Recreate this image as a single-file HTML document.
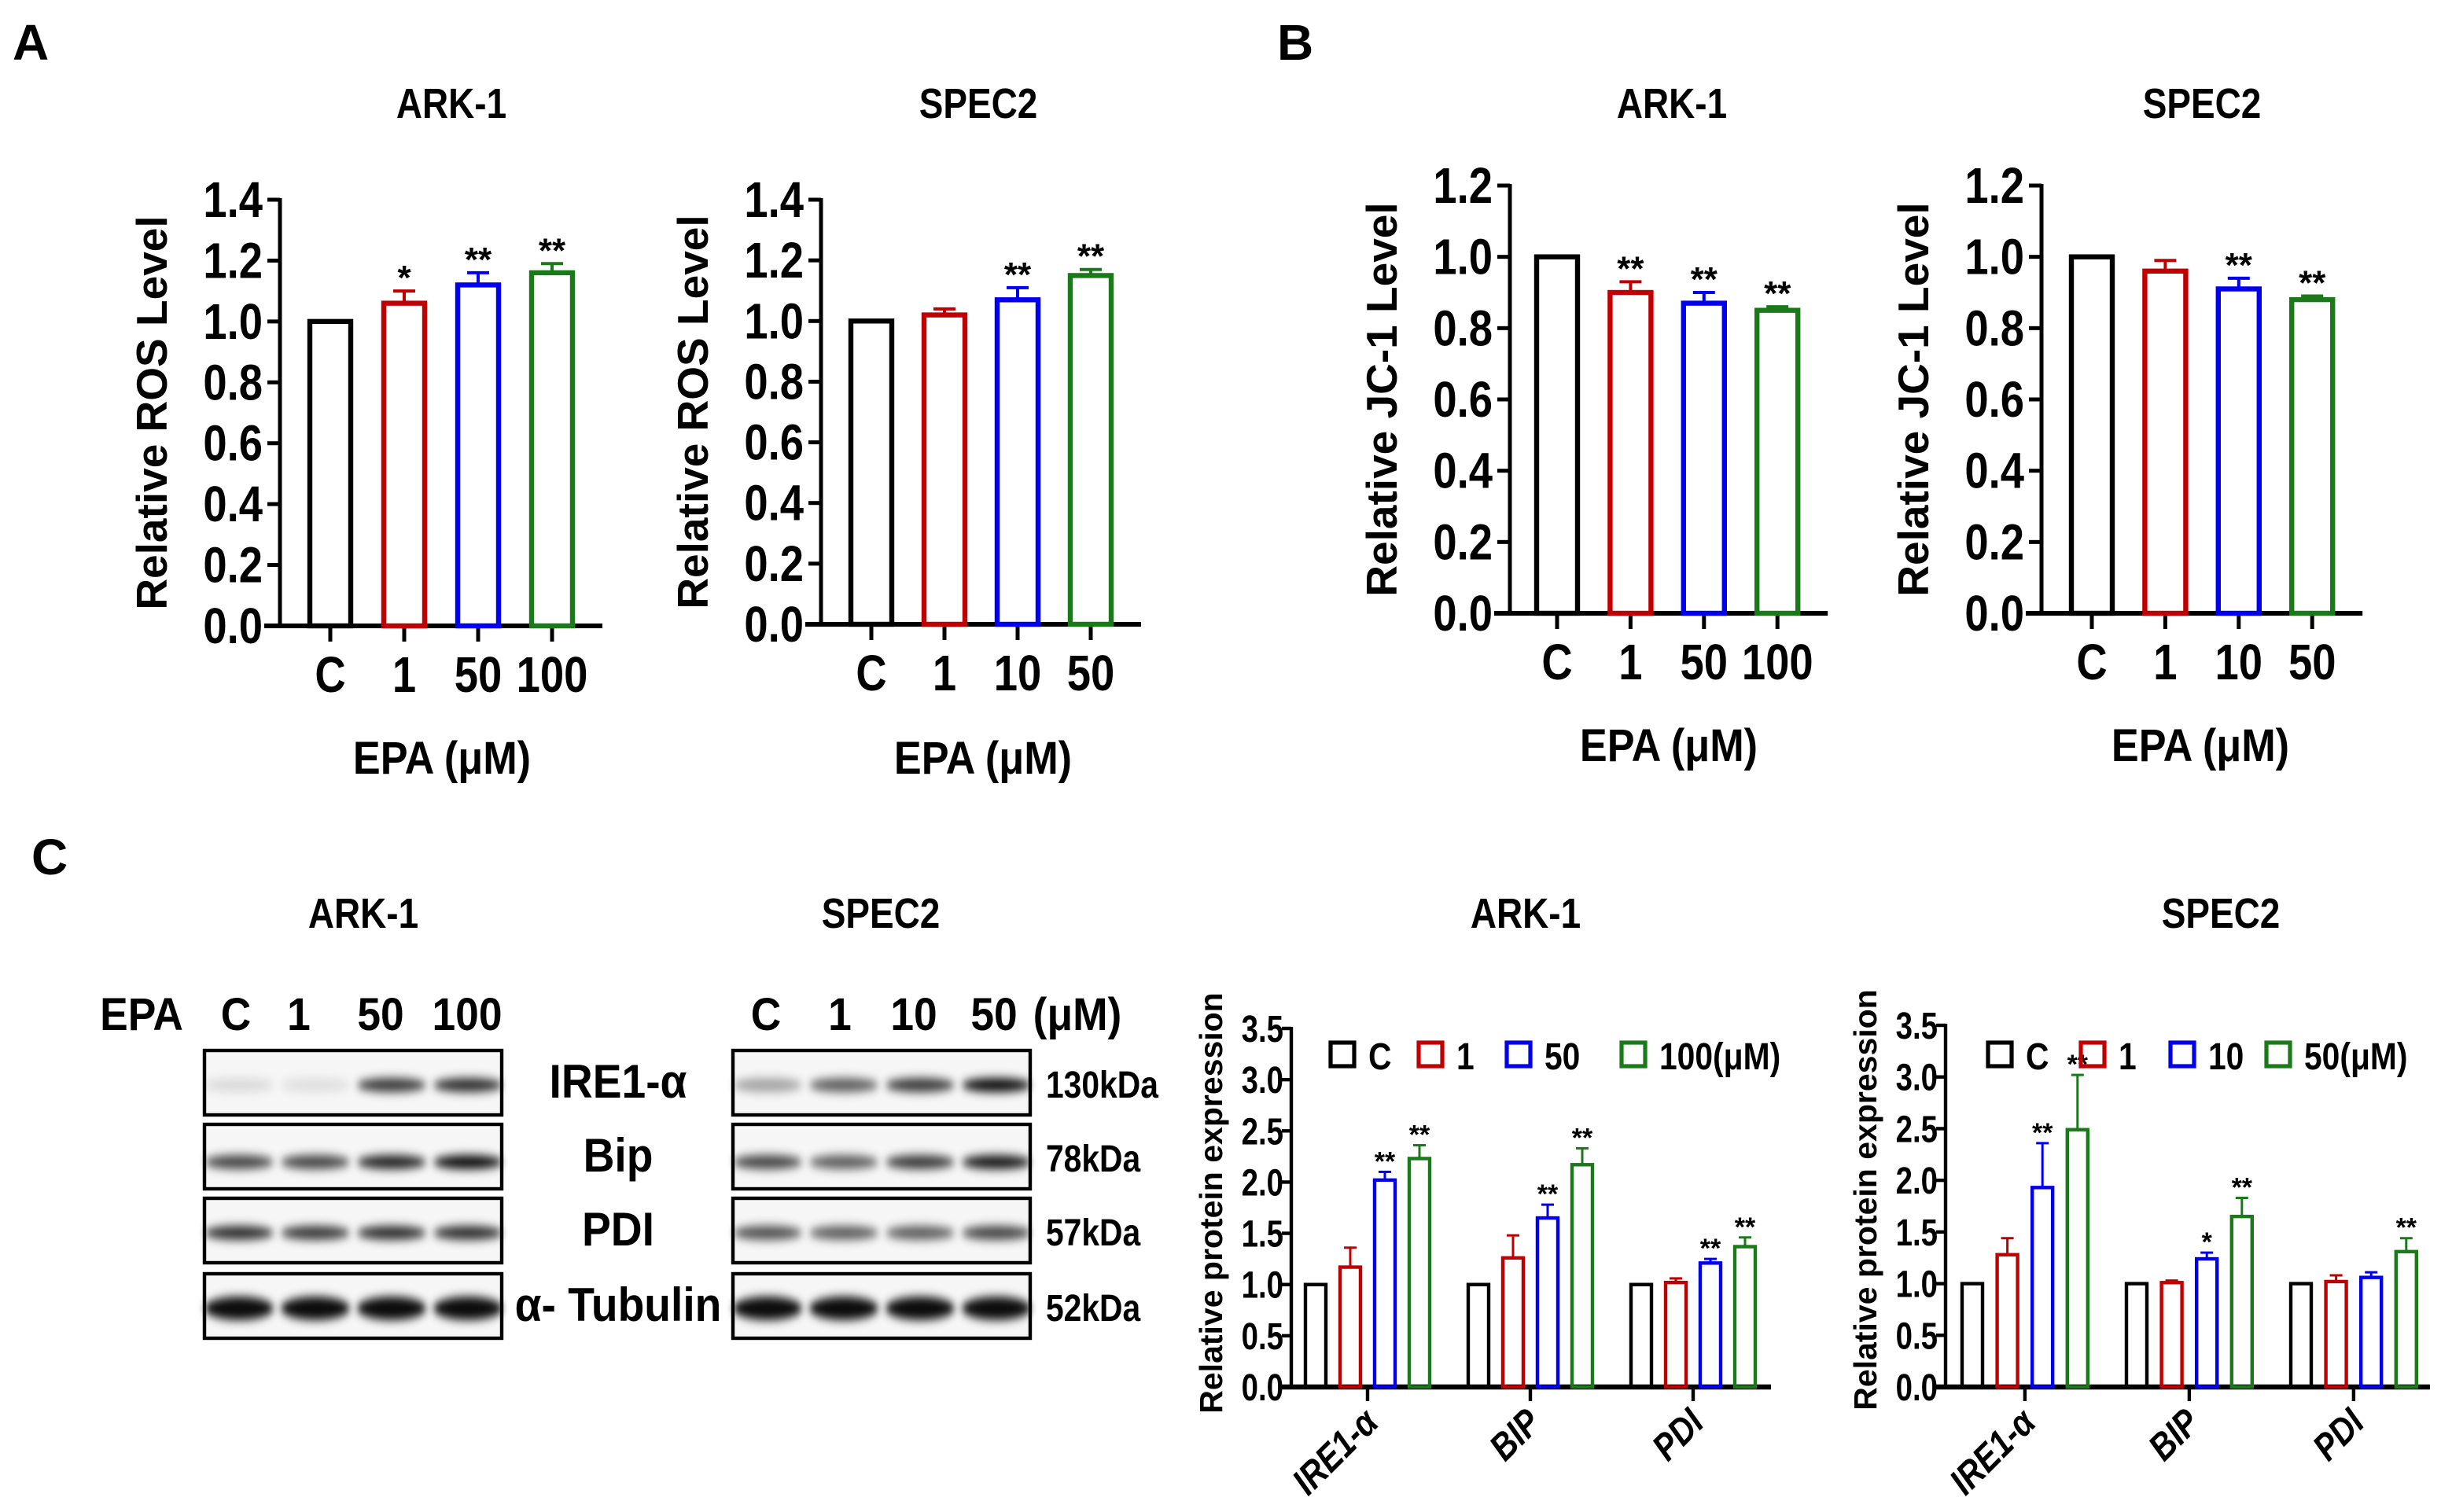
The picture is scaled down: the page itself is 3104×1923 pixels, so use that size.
<!DOCTYPE html>
<html><head><meta charset="utf-8"><style>
html,body{margin:0;padding:0;background:#fff}
svg{display:block}
text{font-family:"Liberation Sans",sans-serif;font-weight:bold;fill:#000}
</style></head><body>
<svg id="fig" xmlns="http://www.w3.org/2000/svg" width="3104" height="1923" viewBox="0 0 1552 961.5">
<defs>
<filter id="blur" x="-20%" y="-100%" width="140%" height="300%"><feGaussianBlur stdDeviation="2.2 3"/></filter>
</defs>
<g id="static">
<text x="8" y="38" font-size="32">A</text>
<text x="812" y="38" font-size="32">B</text>
<text x="20" y="556" font-size="32">C</text>
</g>
</svg>
<script>
// ---------- data ----------
const catsA1 = ["C","1","50","100"];
const valsA1 = [1.0,1.06,1.12,1.16];
const errsA1 = [0,0.04,0.04,0.03];
const starsA1 = ["","*","**","**"];
const catsA2 = ["C","1","10","50"];
const valsA2 = [1.0,1.02,1.07,1.15];
const errsA2 = [0,0.02,0.04,0.02];
const starsA2 = ["","","**","**"];
const ticksA = ["0.0","0.2","0.4","0.6","0.8","1.0","1.2","1.4"];
const catsB1 = ["C","1","50","100"];
const valsB1 = [1.0,0.90,0.87,0.85];
const errsB1 = [0,0.03,0.03,0.01];
const starsB1 = ["","**","**","**"];
const catsB2 = ["C","1","10","50"];
const valsB2 = [1.0,0.96,0.91,0.88];
const errsB2 = [0,0.03,0.03,0.01];
const starsB2 = ["","","**","**"];
const ticksB = ["0.0","0.2","0.4","0.6","0.8","1.0","1.2"];
const proteins = ["IRE1-α","BIP","PDI"];
const ticksC = ["0.0","0.5","1.0","1.5","2.0","2.5","3.0","3.5"];
const legendC1 = ["C","1","50","100(μM)"];
const legendC2 = ["C","1","10","50(μM)"];
const valsC1_C = [1,1,1];
const valsC1_1 = [1.17,1.26,1.02];
const valsC1_50 = [2.02,1.65,1.21];
const valsC1_100 = [2.23,2.17,1.37];
const errsC1_1 = [0.19,0.22,0.04];
const errsC1_50 = [0.08,0.13,0.04];
const errsC1_100 = [0.13,0.16,0.09];
const starsC1_50 = ["**","**","**"];
const starsC1_100 = ["**","**","**"];
const valsC2_C = [1,1,1];
const valsC2_1 = [1.28,1.01,1.02];
const valsC2_10 = [1.93,1.24,1.06];
const valsC2_50 = [2.49,1.65,1.31];
const errsC2_1 = [0.16,0.02,0.06];
const errsC2_10 = [0.43,0.06,0.05];
const errsC2_50 = [0.53,0.18,0.13];
const starsC2_10 = ["**","*",""];
const starsC2_50 = ["**","**","**"];
// blot band intensities (0..1) per lane
const blotRows = ["IRE1-α","Bip","PDI","α- Tubulin"];
const kda = ["130kDa","78kDa","57kDa","52kDa"];
const bandsARK = [[0.12,0.1,0.8,0.85],[0.75,0.75,0.9,1],[0.85,0.8,0.85,0.85],[1,1,1,1]];
const bandsSPEC = [[0.35,0.65,0.8,1],[0.75,0.65,0.8,0.95],[0.7,0.65,0.65,0.75],[1,1,1,1]];

const COLORS = ["#000000","#c00000","#0000ee","#1a7a1a"];
const NS = "http://www.w3.org/2000/svg";
const svg = document.getElementById("fig");
function mk(tag, attrs, parent){
  const e = document.createElementNS(NS, tag);
  for (const k in attrs) e.setAttribute(k, attrs[k]);
  (parent||svg).appendChild(e);
  return e;
}
function txt(s, x, y, size, parent, anchor, sx, rot){
  const t = mk("text", {x:0, y:0, "font-size":size, "text-anchor":anchor||"middle"}, parent);
  t.setAttribute("transform", `translate(${x},${y})` + (rot?` rotate(${rot})`:"") + ` scale(${sx||1},1)`);
  t.textContent = s;
  return t;
}
const NX = 0.85;

// ---------- single bar charts (A, B) ----------
function barChart(o){
  const g = mk("g", {});
  
  
  const yScale = v => o.y0 - (v / o.vmax) * (o.y0 - o.yTop);
  const ti = txt(o.title, o.titleX, 75, 27, g, "middle", NX);
  
  
  const ya = mk("line", {x1:o.ax, y1:o.y0+1.5, x2:o.ax, y2:o.yTop-1, stroke:"#000","stroke-width":2.5}, g);
  
  
  o.ticks.forEach((lab)=>{
    const y = yScale(parseFloat(lab));
    mk("line",{x1:o.ax-8,y1:y,x2:o.ax,y2:y,stroke:"#000","stroke-width":2.5},g);
    const t = txt(lab, o.ax-11, y+11, 32, g, "end", NX);
    
    
  });
  const yl = txt(o.ylabel, o.ax-72, (o.y0+o.yTop)/2, 27.5, g, "middle", 1, -90);
  
  
  const last = o.x0 + o.dx*(o.cats.length-1);
  const xa = mk("line",{x1:o.ax-10,y1:o.y0,x2:last+32,y2:o.y0,stroke:"#000","stroke-width":3},g);
  
  
  o.cats.forEach((c,i)=>{
    const cx = o.x0 + o.dx*i;
    mk("line",{x1:cx,y1:o.y0,x2:cx,y2:o.y0+10,stroke:"#000","stroke-width":2.5},g);
    const t = txt(c, cx, o.y0+42, 32, g, "middle", NX);
    
    
    const v = o.vals[i], e = o.errs[i];
    const yt = yScale(v);
    const w = 26;
    const b = mk("rect",{x:cx-w/2,y:yt,width:w,height:o.y0-yt,fill:"none",stroke:COLORS[i],"stroke-width":3.2},g);
    
    
    if (e>0){
      const ye = yScale(v+e);
      mk("line",{x1:cx,y1:yt,x2:cx,y2:ye,stroke:COLORS[i],"stroke-width":2},g);
      mk("line",{x1:cx-7,y1:ye,x2:cx+7,y2:ye,stroke:COLORS[i],"stroke-width":2},g);
    }
    if (o.stars[i]){
      const s = txt(o.stars[i], cx, yScale(v+e)-1, 22, g, "middle", 1);
      
      
    }
  });
  const xl = txt("EPA (μM)", o.ax+o.xlabOff, o.xlabY, 29, g, "middle", 0.9);
  
  
}
barChart({name:"chart-a-ark1",title:"ARK-1",titleX:287,ax:178,y0:398,yTop:127,vmax:1.4,ticks:ticksA,cats:catsA1,vals:valsA1,errs:errsA1,stars:starsA1,x0:210,dx:47,ylabel:"Relative ROS Level",xlabOff:103,xlabY:492});
barChart({name:"chart-a-spec2",title:"SPEC2",titleX:622,ax:522,y0:397,yTop:127,vmax:1.4,ticks:ticksA,cats:catsA2,vals:valsA2,errs:errsA2,stars:starsA2,x0:554,dx:46.5,ylabel:"Relative ROS Level",xlabOff:103,xlabY:492});
barChart({name:"chart-b-ark1",title:"ARK-1",titleX:1063,ax:960,y0:390,yTop:118,vmax:1.2,ticks:ticksB,cats:catsB1,vals:valsB1,errs:errsB1,stars:starsB1,x0:990,dx:46.7,ylabel:"Relative JC-1 Level",xlabOff:101,xlabY:484});
barChart({name:"chart-b-spec2",title:"SPEC2",titleX:1400,ax:1298,y0:390,yTop:118,vmax:1.2,ticks:ticksB,cats:catsB2,vals:valsB2,errs:errsB2,stars:starsB2,x0:1330,dx:46.7,ylabel:"Relative JC-1 Level",xlabOff:101,xlabY:484});

// ---------- grouped charts (C) ----------
function groupChart(o){
  const g = mk("g", {});
  
  
  const yScale = v => o.y0 - (v / 3.5) * (o.y0 - o.yTop);
  const ti = txt(o.title, o.titleX, 590, 27, g, "middle", NX);
  
  
  const ya = mk("line",{x1:o.ax,y1:o.y0+1.5,x2:o.ax,y2:o.yTop-1,stroke:"#000","stroke-width":2.2},g);
  
  
  ticksC.forEach(lab=>{
    const y = yScale(parseFloat(lab));
    mk("line",{x1:o.ax-6,y1:y,x2:o.ax,y2:y,stroke:"#000","stroke-width":2.2},g);
    const t = txt(lab, o.ax-5, y+8.5, 24, g, "end", 0.8);
    
    
  });
  const yl = txt("Relative protein expression", o.ax-44, o.ylc, 20.5, g, "middle", 1, -90);
  
  
  const xa = mk("line",{x1:o.ax-8,y1:o.y0,x2:o.xEnd,y2:o.y0,stroke:"#000","stroke-width":3.2},g);
  
  
  proteins.forEach((p,gi)=>{
    const gx = o.g0 + o.gdx*gi;
    const mid = gx + o.bdx*1.5;
    mk("line",{x1:mid,y1:o.y0,x2:mid,y2:o.y0+9,stroke:"#000","stroke-width":2.2},g);
    const t = txt(p, mid+8, o.y0+24, 24, g, "end", NX, -45);
    t.setAttribute("font-style","italic");
    
    
    o.series.forEach((s,si)=>{
      const cx = gx + o.bdx*si;
      const v = s.v[gi], e = s.e ? s.e[gi] : 0;
      const yt = yScale(v);
      const w = 13;
      const b = mk("rect",{x:cx-w/2,y:yt,width:w,height:o.y0-yt,fill:"none",stroke:COLORS[si],"stroke-width":2.2},g);
      
      
      if (e>0){
        const ye = yScale(v+e);
        mk("line",{x1:cx,y1:yt,x2:cx,y2:ye,stroke:COLORS[si],"stroke-width":1.5},g);
        mk("line",{x1:cx-4,y1:ye,x2:cx+4,y2:ye,stroke:COLORS[si],"stroke-width":1.5},g);
      }
      if (s.s && s.s[gi]){
        const st = txt(s.s[gi], cx, yScale(v+e)-1, 17, g, "middle", 1);
        
        
      }
    });
  });
  o.legX.forEach((lx,i)=>{
    const sq = mk("rect",{x:lx,y:663,width:15,height:15,fill:"none",stroke:COLORS[i],"stroke-width":2.6},g);
    
    
    const t = txt(o.legend[i], lx+24, 680, 24, g, "start", 0.85);
    
    
  });
}
groupChart({name:"chart-c-ark1",title:"ARK-1",titleX:970,ax:821,y0:882,yTop:654,xEnd:1126,g0:836.5,gdx:103.5,bdx:22,ylc:765,
  legend:legendC1,legX:[846,902,958,1031],
  series:[{v:valsC1_C},{v:valsC1_1,e:errsC1_1},{v:valsC1_50,e:errsC1_50,s:starsC1_50},{v:valsC1_100,e:errsC1_100,s:starsC1_100}]});
groupChart({name:"chart-c-spec2",title:"SPEC2",titleX:1412,ax:1237,y0:882,yTop:652,xEnd:1545,g0:1254,gdx:104.5,bdx:22.3,ylc:763,
  legend:legendC2,legX:[1264,1323,1380,1441],
  series:[{v:valsC2_C},{v:valsC2_1,e:errsC2_1},{v:valsC2_10,e:errsC2_10,s:starsC2_10},{v:valsC2_50,e:errsC2_50,s:starsC2_50}]});

// ---------- western blots ----------
function blot(name, title, titleX, bx, bands, laneLabels, laneX, extra){
  const g = mk("g", {});
  
  
  const ti = txt(title, titleX, 590, 27, g, "middle", NX);
  
  
  laneLabels.forEach((l,i)=>{
    const t = txt(l, laneX[i], 655, 29, g, "middle", 0.92);
    
    
  });
  const rowsY = [668,715,762,810];
  const w = 189, h = 41;
  bands.forEach((row,ri)=>{
    const y = rowsY[ri];
    mk("rect",{x:bx,y:y,width:w,height:h,fill:"#f6f6f6"},g);
    row.forEach((inten,li)=>{
      const cx = bx + 22 + li*48.5;
      const by = y + (ri===1?24:22);
      const e = mk("ellipse",{cx:cx,cy:by,rx:22,ry:ri===3?7.5:4.5,fill:"#000","fill-opacity":inten*0.95,filter:"url(#blur)"},g);
      
      
    });
    const r = mk("rect",{x:bx,y:y,width:w,height:h,fill:"none",stroke:"#000","stroke-width":2.2},g);
    
    
    const t = txt(extra.labels[ri], extra.x, y+30, extra.size, g, extra.anchor, extra.sx);
    
    
  });
}
blot("blot-ark1","ARK-1",231,130,bandsARK,["EPA","C","1","50","100"],[90,150,190,242,297],{labels:blotRows,x:393,size:30,anchor:"middle",sx:0.92});
blot("blot-spec2","SPEC2",560,466,bandsSPEC,["C","1","10","50","(μM)"],[487,534,581,632,685],{labels:kda,x:665,size:24,anchor:"start",sx:0.85});
</script>
</body></html>
